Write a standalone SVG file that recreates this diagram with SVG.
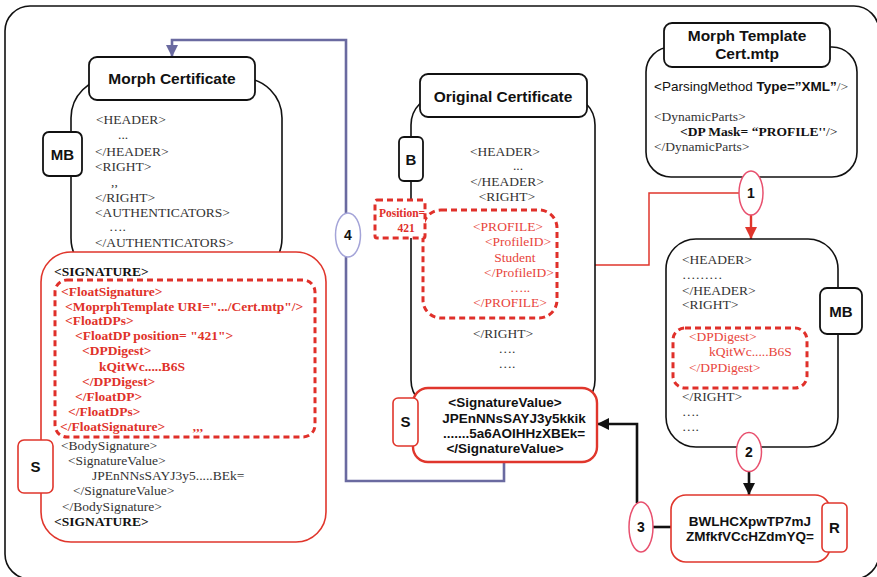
<svg xmlns="http://www.w3.org/2000/svg" width="877" height="577" viewBox="0 0 877 577">
  <style>
    .sans { font-family: "Liberation Sans", Arial, sans-serif; }
    .serif { font-family: "Liberation Serif", "Times New Roman", serif; }
    .title { font-family: "Liberation Sans", Arial, sans-serif; font-weight: bold; font-size: 15.5px; fill: #111; text-anchor: middle; }
    .xml { font-family: "Liberation Serif", "Times New Roman", serif; font-size: 13.5px; fill: #333; }
    .xmlr { font-family: "Liberation Serif", "Times New Roman", serif; font-size: 13.5px; fill: #e8453c; }
    .xmlrb { font-family: "Liberation Serif", "Times New Roman", serif; font-size: 13.5px; fill: #e0322a; font-weight: bold; }
    .xmlb { font-family: "Liberation Serif", "Times New Roman", serif; font-size: 13.5px; fill: #111; font-weight: bold; }
    .val { font-family: "Liberation Sans", Arial, sans-serif; font-size: 13.5px; font-weight: bold; fill: #111; text-anchor: middle; }
    .tag { font-family: "Liberation Sans", Arial, sans-serif; font-size: 15px; font-weight: bold; fill: #111; text-anchor: middle; }
    .num { font-family: "Liberation Sans", Arial, sans-serif; font-size: 14px; font-weight: bold; fill: #111; text-anchor: middle; }
    .body { fill: #fff; stroke: #111; stroke-width: 1.6; }
    .hdr { fill: #fff; stroke: #111; stroke-width: 1.8; }
    .redbox { fill: #fff; stroke: #e0362c; stroke-width: 1.6; }
    .redbox2 { fill: #fff; stroke: #e0362c; stroke-width: 2.4; }
    .dash { fill: none; stroke: #e0302a; stroke-width: 3; stroke-dasharray: 6 4; }
    .step { fill: #fff; stroke: #e8506e; stroke-width: 1.5; }
    .step4 { fill: #fff; stroke: #a4a4d8; stroke-width: 1.5; }
  </style>
  <defs>
    <marker id="arrPurple" markerUnits="userSpaceOnUse" markerWidth="12" markerHeight="16" refX="12" refY="6" orient="auto">
      <path d="M0,0 L12,6 L0,12 Z" fill="#6a6aa0"/>
    </marker>
    <marker id="arrRed" markerUnits="userSpaceOnUse" markerWidth="12" markerHeight="12" refX="12" refY="6" orient="auto">
      <path d="M0,0 L12,6 L0,12 Z" fill="#e0362c"/>
    </marker>
    <marker id="arrBlack" markerUnits="userSpaceOnUse" markerWidth="12" markerHeight="12" refX="12" refY="6" orient="auto">
      <path d="M0,0 L12,6 L0,12 Z" fill="#111"/>
    </marker>
  </defs>

  <rect width="877" height="577" fill="#fff"/>
  <!-- outer frame -->
  <rect x="5" y="6" width="874" height="573" rx="25" fill="none" stroke="#111" stroke-width="1.6"/>

  <!-- connectors -->
  <g id="connectors" fill="none">
    <polyline points="504,462 504,481 346,481 346,40 172,40 172,57" stroke="#6a6aa0" stroke-width="2.6" marker-end="url(#arrPurple)"/>
    <polyline points="557,265 649,265 649,193 739,193" stroke="#e0362c" stroke-width="1.5"/>
    <line x1="751" y1="215" x2="751" y2="239" stroke="#e0362c" stroke-width="2.4" marker-end="url(#arrRed)"/>
    <line x1="749" y1="472" x2="749" y2="495" stroke="#111" stroke-width="2.6" marker-end="url(#arrBlack)"/>
    <polyline points="671,527 652,527" stroke="#111" stroke-width="2.6"/>
    <polyline points="637,503 637,424 597,424" stroke="#111" stroke-width="2.6" marker-end="url(#arrBlack)"/>
  </g>

  <!-- Morph Certificate -->
  <g id="morph-certificate">
    <rect class="body" x="71" y="78" width="211" height="200" rx="40"/>
    <rect class="hdr" x="89" y="57" width="166" height="43" rx="8"/>
    <text class="title" x="172" y="84">Morph Certificate</text>
    <rect class="hdr" x="43" y="132" width="39" height="44" rx="6"/>
    <text class="tag" x="62.5" y="160">MB</text>
    <text class="xml" x="96" y="124">&lt;HEADER&gt;</text>
    <text class="xml" x="118" y="139">...</text>
    <text class="xml" x="95" y="156">&lt;/HEADER&gt;</text>
    <text class="xml" x="95" y="171">&lt;RIGHT&gt;</text>
    <text class="xml" x="111" y="186" font-size="12px">,,</text>
    <text class="xml" x="95" y="202">&lt;/RIGHT&gt;</text>
    <text class="xml" x="95" y="217">&lt;AUTHENTICATORS&gt;</text>
    <text class="xml" x="109" y="231">….</text>
    <text class="xml" x="95" y="247">&lt;/AUTHENTICATORS&gt;</text>
  </g>

  <!-- Signature block of the morph certificate -->
  <g id="morph-signature">
    <rect class="redbox" x="41" y="252" width="285" height="290" rx="30"/>
    <rect class="dash" x="55" y="280" width="260" height="157" rx="12"/>
    <rect class="redbox" x="18" y="440" width="35" height="53" rx="6"/>
    <text class="tag" x="35.5" y="472">S</text>
    <text class="xmlb" x="54" y="276">&lt;SIGNATURE&gt;</text>
    <text class="xmlrb" x="61" y="296">&lt;FloatSignature&gt;</text>
    <text class="xmlrb" x="65" y="311">&lt;MoprphTemplate URI=".../Cert.mtp"/&gt;</text>
    <text class="xmlrb" x="65" y="325">&lt;FloatDPs&gt;</text>
    <text class="xmlrb" x="75" y="340">&lt;FloatDP position= "421"&gt;</text>
    <text class="xmlrb" x="82" y="355">&lt;DPDigest&gt;</text>
    <text class="xmlrb" x="99" y="371">kQitWc.....B6S</text>
    <text class="xmlrb" x="82" y="386">&lt;/DPDigest&gt;</text>
    <text class="xmlrb" x="75" y="401">&lt;/FloatDP&gt;</text>
    <text class="xmlrb" x="68" y="416">&lt;/FloatDPs&gt;</text>
    <text class="xmlrb" x="60" y="431">&lt;/FloatSignature&gt;</text>
    <text class="xmlrb" x="192" y="437" font-size="12px">’’’</text>
    <text class="xml" x="61" y="450">&lt;BodySignature&gt;</text>
    <text class="xml" x="68" y="465">&lt;SignatureValue&gt;</text>
    <text class="xml" x="92" y="480">JPEnNNsSAYJ3y5.....BEk=</text>
    <text class="xml" x="73" y="495">&lt;/SignatureValue&gt;</text>
    <text class="xml" x="62" y="511">&lt;/BodySignature&gt;</text>
    <text class="xmlb" x="54" y="526">&lt;SIGNATURE&gt;</text>
  </g>

  <!-- Original Certificate -->
  <g id="original-certificate">
    <rect class="body" x="411" y="95" width="184" height="315" rx="30" stroke-width="2.2"/>
    <rect class="hdr" x="420" y="74" width="167" height="43" rx="8" stroke-width="2.2"/>
    <text class="title" x="503" y="102">Original Certificate</text>
    <rect class="hdr" x="399" y="137" width="24" height="44" rx="5"/>
    <text class="tag" x="411" y="165">B</text>
    <g text-anchor="middle">
      <text class="xml" x="505" y="156">&lt;HEADER&gt;</text>
      <text class="xml" x="518" y="170">...</text>
      <text class="xml" x="507" y="186">&lt;/HEADER&gt;</text>
      <text class="xml" x="507" y="201">&lt;RIGHT&gt;</text>
      <text class="xmlr" x="508" y="231">&lt;PROFILE&gt;</text>
      <text class="xmlr" x="518" y="246">&lt;ProfileID&gt;</text>
      <text class="xmlr" x="515" y="262">Student</text>
      <text class="xmlr" x="519" y="277">&lt;/ProfileID&gt;</text>
      <text class="xmlr" x="520" y="292">…..</text>
      <text class="xmlr" x="510" y="307">&lt;/PROFILE&gt;</text>
      <text class="xml" x="503" y="338">&lt;/RIGHT&gt;</text>
      <text class="xml" x="507" y="353">….</text>
      <text class="xml" x="507" y="368">….</text>
    </g>
    <rect class="dash" x="423" y="210" width="134" height="108" rx="18"/>
    <rect x="375" y="200" width="50" height="38" rx="2" fill="#fff" stroke="#e0302a" stroke-width="3" stroke-dasharray="6 4"/>
    <text class="serif" x="402" y="217" font-size="11.5" font-weight="bold" fill="#e0302a" text-anchor="middle">Position=</text>
    <text class="serif" x="406" y="232" font-size="11.5" font-weight="bold" fill="#e0302a" text-anchor="middle">421</text>
  </g>

  <!-- Signature value of the original certificate -->
  <g id="signature-value">
    <rect class="redbox2" x="413" y="388" width="184" height="74" rx="15"/>
    <rect class="redbox" x="393" y="398" width="25" height="48" rx="5"/>
    <text class="tag" x="405.5" y="427">S</text>
    <text class="val" x="505" y="407">&lt;SignatureValue&gt;</text>
    <text class="val" x="514" y="423">JPEnNNsSAYJ3y5kkik</text>
    <text class="val" x="514" y="438">.......5a6AOIHHzXBEk=</text>
    <text class="val" x="505" y="453">&lt;/SignatureValue&gt;</text>
  </g>

  <!-- Morph Template -->
  <g id="morph-template">
    <rect class="body" x="646" y="47" width="211" height="130" rx="25"/>
    <rect class="hdr" x="664" y="23" width="166" height="44" rx="8"/>
    <text class="title" x="747" y="41" font-size="15.5px">Morph Template</text>
    <text class="title" x="747" y="59" font-size="15.5px">Cert.mtp</text>
    <text x="654" y="91" font-size="13.5px" fill="#111"><tspan class="sans">&lt;ParsingMethod </tspan><tspan class="sans" font-weight="bold">Type=”XML”</tspan><tspan class="serif" fill="#444">/&gt;</tspan></text>
    <text class="xml" x="654" y="121" font-size="13.5px">&lt;DynamicParts&gt;</text>
    <text x="680" y="136" font-size="13.5px" fill="#111"><tspan class="serif" font-weight="bold">&lt;DP Mask= “PROFILE''</tspan><tspan class="serif">/&gt;</tspan></text>
    <text class="xml" x="654" y="151" font-size="13.5px">&lt;/DynamicParts&gt;</text>
  </g>

  <!-- Morph body with the digest -->
  <g id="morph-body">
    <rect class="body" x="666" y="239" width="172" height="208" rx="30"/>
    <rect class="hdr" x="820" y="288" width="42" height="46" rx="7"/>
    <text class="tag" x="841" y="317">MB</text>
    <text class="xml" x="682" y="264">&lt;HEADER&gt;</text>
    <text class="xml" x="682" y="279">………</text>
    <text class="xml" x="682" y="295">&lt;/HEADER&gt;</text>
    <text class="xml" x="682" y="309">&lt;RIGHT&gt;</text>
    <rect class="dash" x="673" y="328" width="134" height="60" rx="12"/>
    <text class="xmlr" x="689" y="341">&lt;DPDigest&gt;</text>
    <text class="xmlr" x="709" y="356">kQitWc.....B6S</text>
    <text class="xmlr" x="689" y="372">&lt;/DPDigest&gt;</text>
    <text class="xml" x="682" y="401">&lt;/RIGHT&gt;</text>
    <text class="xml" x="682" y="416">….</text>
    <text class="xml" x="682" y="431">….</text>
  </g>

  <!-- Resulting digest -->
  <g id="result">
    <rect class="redbox" x="671" y="495" width="159" height="67" rx="15"/>
    <rect class="redbox" x="822" y="503" width="25" height="49" rx="5"/>
    <text class="tag" x="834.5" y="533">R</text>
    <text class="val" x="750" y="526">BWLHCXpwTP7mJ</text>
    <text class="val" x="750" y="541">ZMfkfVCcHZdmYQ=</text>
  </g>

  <!-- Step markers -->
  <g id="step-1">
    <ellipse class="step" cx="751" cy="193" rx="12" ry="22"/>
    <text class="num" x="751" y="198">1</text>
  </g>
  <g id="step-2">
    <ellipse class="step" cx="749" cy="452" rx="12.5" ry="19.5"/>
    <text class="num" x="749" y="457">2</text>
  </g>
  <g id="step-3">
    <ellipse class="step" cx="641" cy="527" rx="12" ry="25"/>
    <text class="num" x="641" y="532">3</text>
  </g>
  <g id="step-4">
    <ellipse class="step4" cx="348" cy="235" rx="12.5" ry="22"/>
    <text class="num" x="348" y="240">4</text>
  </g>
</svg>
